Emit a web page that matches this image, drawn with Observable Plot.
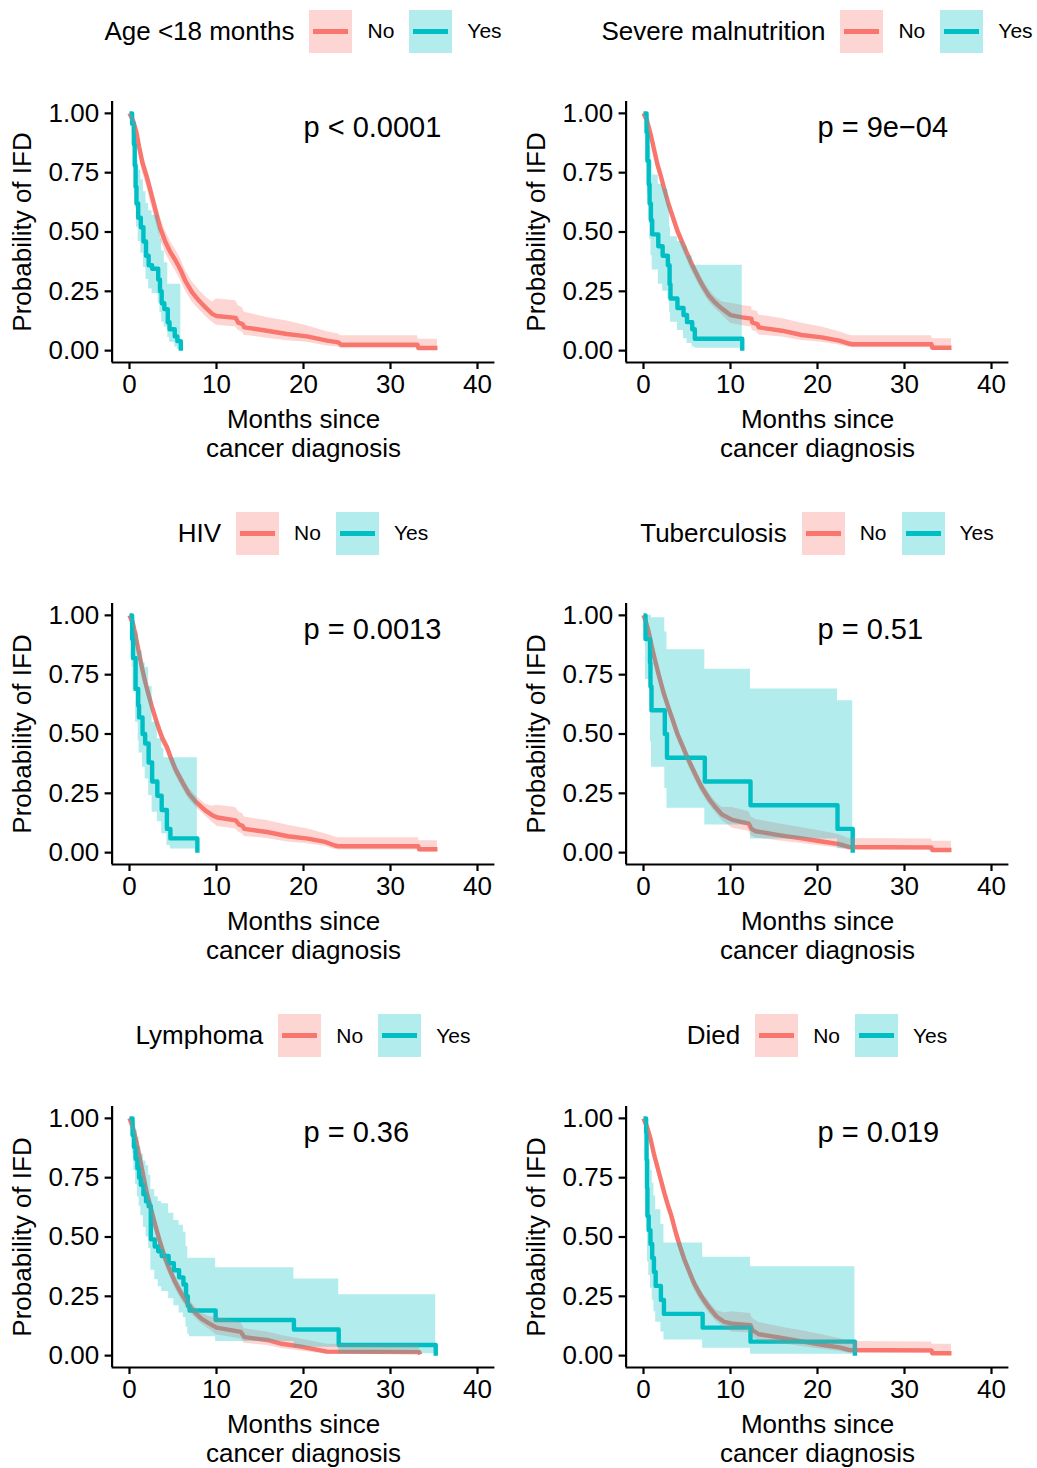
<!DOCTYPE html>
<html><head><meta charset="utf-8">
<script src="https://cdn.jsdelivr.net/npm/d3@7"></script>
<script src="https://cdn.jsdelivr.net/npm/@observablehq/plot@0.6"></script>
<style>
body{margin:0;background:#fff;font-family:"Liberation Sans",Arial,Helvetica,sans-serif;color:#000;}
#root{position:relative;width:1037px;height:1468px;overflow:hidden;background:#fff;}
.panel{position:absolute;}
.legend{position:absolute;display:flex;align-items:center;justify-content:center;width:600px;height:43px;color:#000;white-space:nowrap;}
.legend .title{font-size:26px;margin-right:15px;}
.legend .key{width:43px;height:43px;position:relative;flex:none;}
.legend .key i{position:absolute;left:4px;right:4px;top:19px;height:5px;display:block;}
.legend .lab{font-size:21px;margin:0 15px;}
.legend .lab.last{margin-right:0;}
</style></head><body><div id="root"></div>
<script>
// ---------- data ----------
const panelTitles = ["Age <18 months", "Severe malnutrition", "HIV", "Tuberculosis", "Lymphoma", "Died"];
const pLabels = ["p < 0.0001", "p = 9e\u221204", "p = 0.0013", "p = 0.51", "p = 0.36", "p = 0.019"];
const groups = ["No", "Yes"];
const xTicks = [0, 10, 20, 30, 40];
const yTicks = [0, 0.25, 0.5, 0.75, 1];
const xLabel = "Months since\ncancer diagnosis";
const yLabel = "Probability of IFD";

// "No" groups (large, finely stepped): vertices [months, survival, lower CI, upper CI]
const ageNo = [[0,1,1,1],[0.4,0.97,0.95,0.99],[0.8,0.92,0.89,0.95],[1.1,0.86,0.82,0.89],[1.5,0.79,0.75,0.83],[2.0,0.73,0.69,0.77],[2.4,0.675,0.63,0.72],[3.0,0.59,0.545,0.635],[3.5,0.52,0.475,0.565],[4.1,0.46,0.415,0.505],[4.7,0.415,0.37,0.46],[5.3,0.38,0.335,0.425],[5.9,0.338,0.295,0.385],[6.4,0.295,0.255,0.34],[7.2,0.246,0.205,0.29],[8.0,0.21,0.172,0.255],[8.7,0.183,0.146,0.228],[9.5,0.155,0.12,0.205],[10.0,0.146,0.107,0.218],[12.2,0.138,0.1,0.21],[12.5,0.118,0.085,0.19],[13.0,0.112,0.078,0.18],[13.2,0.098,0.065,0.162],[15.8,0.084,0.052,0.14],[18.1,0.07,0.042,0.125],[20.4,0.06,0.035,0.105],[22.7,0.042,0.02,0.08],[24.0,0.035,0.015,0.07],[24.3,0.025,0.008,0.063],[33.1,0.025,0.008,0.063],[33.2,0.011,0.001,0.048],[35.4,0.011,0.001,0.048]];
const malNo = [[0,1,1,1],[0.4,0.97,0.955,0.985],[0.8,0.915,0.895,0.935],[1.2,0.85,0.825,0.875],[1.6,0.785,0.76,0.81],[2.0,0.735,0.71,0.76],[2.4,0.68,0.655,0.705],[2.9,0.615,0.59,0.64],[3.4,0.56,0.535,0.585],[3.9,0.505,0.48,0.53],[4.45,0.457,0.43,0.485],[5.0,0.41,0.383,0.437],[5.5,0.368,0.34,0.395],[6.0,0.33,0.303,0.357],[6.7,0.28,0.254,0.307],[7.5,0.232,0.207,0.258],[8.3,0.2,0.176,0.225],[9.05,0.176,0.15,0.205],[10.0,0.15,0.115,0.2],[11.35,0.14,0.105,0.19],[12.4,0.135,0.1,0.185],[12.5,0.118,0.085,0.17],[13.1,0.112,0.078,0.165],[13.25,0.098,0.066,0.15],[15.9,0.084,0.058,0.135],[18.2,0.066,0.043,0.115],[20.5,0.056,0.035,0.1],[22.5,0.042,0.024,0.08],[23.6,0.03,0.014,0.066],[24.0,0.027,0.012,0.063],[33.1,0.027,0.012,0.063],[33.2,0.012,0.002,0.05],[35.4,0.012,0.002,0.05]];
const hivNo = [[0,1,1,1],[0.4,0.965,0.95,0.98],[0.7,0.914,0.895,0.933],[1.1,0.84,0.817,0.863],[1.46,0.775,0.75,0.8],[1.8,0.72,0.695,0.745],[2.2,0.665,0.64,0.69],[2.6,0.612,0.587,0.637],[3.0,0.565,0.54,0.59],[3.4,0.52,0.495,0.545],[3.8,0.48,0.455,0.505],[4.3,0.445,0.42,0.47],[4.8,0.395,0.37,0.42],[5.3,0.35,0.325,0.375],[6.1,0.295,0.27,0.32],[6.8,0.25,0.226,0.275],[7.6,0.215,0.192,0.24],[8.7,0.178,0.155,0.205],[9.5,0.158,0.128,0.195],[10.1,0.148,0.11,0.2],[12.2,0.136,0.1,0.19],[12.6,0.118,0.085,0.17],[13.0,0.113,0.08,0.165],[13.2,0.1,0.068,0.15],[15.8,0.087,0.06,0.135],[18.2,0.069,0.045,0.115],[20.5,0.059,0.037,0.1],[22.5,0.045,0.026,0.08],[23.6,0.03,0.013,0.066],[24.0,0.027,0.011,0.063],[33.2,0.027,0.011,0.063],[33.3,0.014,0.003,0.05],[35.4,0.014,0.003,0.05]];
const tbNo = [[0,1,1,1],[0.3,0.97,0.955,0.985],[0.6,0.93,0.912,0.948],[1.0,0.86,0.838,0.882],[1.4,0.8,0.776,0.824],[1.76,0.748,0.724,0.772],[2.3,0.675,0.65,0.7],[2.9,0.608,0.583,0.633],[3.4,0.555,0.53,0.58],[3.9,0.5,0.475,0.525],[4.45,0.453,0.428,0.478],[5.0,0.405,0.38,0.43],[5.5,0.365,0.34,0.39],[6.0,0.326,0.302,0.35],[6.7,0.275,0.251,0.3],[7.5,0.228,0.205,0.252],[8.3,0.19,0.168,0.214],[9.05,0.16,0.135,0.19],[10.2,0.138,0.103,0.19],[12.1,0.122,0.09,0.172],[12.4,0.1,0.07,0.15],[12.9,0.09,0.062,0.14],[15.9,0.072,0.048,0.12],[18.2,0.06,0.038,0.105],[20.5,0.047,0.028,0.09],[22.5,0.036,0.018,0.075],[23.6,0.024,0.01,0.06],[33.1,0.022,0.009,0.058],[33.2,0.011,0.002,0.048],[35.4,0.011,0.002,0.048]];
const lymNo = [[0,1,1,1],[0.4,0.96,0.94,0.98],[0.8,0.9,0.875,0.925],[1.2,0.83,0.803,0.857],[1.6,0.755,0.727,0.783],[2.0,0.685,0.657,0.713],[2.5,0.615,0.587,0.643],[3.0,0.545,0.517,0.573],[3.5,0.48,0.452,0.508],[4.1,0.41,0.382,0.438],[4.7,0.355,0.328,0.382],[5.3,0.306,0.28,0.332],[5.9,0.265,0.24,0.29],[6.4,0.236,0.212,0.262],[7.0,0.205,0.182,0.23],[7.6,0.179,0.156,0.203],[8.3,0.155,0.133,0.18],[9.1,0.137,0.112,0.165],[10.0,0.118,0.088,0.16],[12.8,0.1,0.07,0.14],[13.2,0.078,0.052,0.113],[15.8,0.066,0.043,0.1],[17.5,0.05,0.03,0.085],[19.7,0.038,0.02,0.07],[22.7,0.017,0.006,0.048],[33.3,0.015,0.005,0.045],[33.4,0.005,0.005,0.005]];
const diedNo = [[0,1,1,1],[0.4,0.965,0.95,0.98],[0.8,0.915,0.895,0.935],[1.2,0.85,0.826,0.874],[1.6,0.795,0.77,0.82],[2.0,0.74,0.714,0.766],[2.4,0.685,0.659,0.711],[2.8,0.635,0.609,0.661],[3.2,0.59,0.564,0.616],[3.7,0.52,0.494,0.546],[4.2,0.46,0.434,0.486],[4.7,0.405,0.379,0.431],[5.2,0.36,0.334,0.386],[5.8,0.306,0.281,0.331],[6.4,0.265,0.241,0.29],[6.9,0.236,0.212,0.26],[7.6,0.2,0.177,0.224],[8.4,0.165,0.143,0.19],[9.3,0.142,0.115,0.18],[10.2,0.135,0.1,0.185],[12.3,0.128,0.095,0.178],[12.5,0.108,0.078,0.158],[13.25,0.09,0.063,0.14],[15.9,0.075,0.05,0.12],[18.2,0.06,0.038,0.105],[20.5,0.046,0.027,0.088],[22.5,0.035,0.018,0.072],[23.6,0.024,0.01,0.06],[33.1,0.022,0.009,0.058],[33.2,0.01,0.002,0.048],[35.4,0.01,0.002,0.048]];

// "Yes" groups (small, coarse steps): step starts [months, survival, lower CI, upper CI]
const ageYes = [[0,1,1,1],[0.3,0.956,0.91,1],[0.5,0.87,0.8,0.97],[0.6,0.78,0.7,0.92],[0.7,0.69,0.6,0.86],[0.8,0.62,0.52,0.8],[1.0,0.56,0.46,0.76],[1.3,0.52,0.41,0.72],[1.6,0.46,0.35,0.67],[1.9,0.4,0.3,0.62],[2.2,0.36,0.26,0.59],[2.6,0.345,0.24,0.57],[3.3,0.3,0.2,0.52],[3.5,0.25,0.16,0.47],[3.7,0.2,0.12,0.42],[4.0,0.175,0.1,0.37],[4.4,0.12,0.055,0.28],[4.6,0.09,0.035,0.28],[5.2,0.06,0.015,0.28],[5.5,0.04,0.005,0.28],[5.9,0,0,0]];
const malYes = [[0,1,1,1],[0.35,0.92,0.8,1],[0.45,0.8,0.66,0.98],[0.6,0.7,0.55,0.92],[0.7,0.62,0.47,0.86],[0.85,0.55,0.4,0.8],[1.0,0.49,0.34,0.74],[1.7,0.44,0.28,0.7],[2.2,0.4,0.25,0.68],[2.8,0.36,0.22,0.62],[3.0,0.28,0.16,0.52],[3.1,0.22,0.12,0.48],[3.9,0.18,0.085,0.46],[4.6,0.15,0.05,0.44],[5.0,0.12,0.03,0.4],[5.6,0.09,0.015,0.36],[5.9,0.05,0.01,0.36],[11.35,0,0,0]];
const hivYes = [[0,1,1,1],[0.3,0.9,0.78,1],[0.4,0.82,0.68,0.98],[0.7,0.69,0.55,0.93],[1.0,0.62,0.47,0.89],[1.1,0.57,0.42,0.85],[1.5,0.5,0.36,0.8],[1.8,0.46,0.31,0.78],[2.2,0.38,0.24,0.7],[2.6,0.3,0.17,0.55],[3.2,0.24,0.13,0.48],[3.7,0.18,0.08,0.44],[3.95,0.18,0.08,0.4],[4.3,0.1,0.03,0.4],[4.7,0.06,0.015,0.4],[7.8,0,0,0]];
const tbYes = [[0,1,1,1],[0.23,0.9,0.73,1],[0.75,0.8,0.587,1],[0.8,0.7,0.466,1],[0.92,0.6,0.36,0.99],[2.45,0.5,0.27,0.93],[2.7,0.4,0.187,0.855],[7.05,0.3,0.116,0.773],[12.3,0.2,0.058,0.69],[22.3,0.1,0.016,0.64],[24.05,0,0,0]];
const lymYes = [[0,1,1,1],[0.35,0.93,0.85,1],[0.5,0.88,0.78,0.98],[0.7,0.83,0.72,0.95],[0.9,0.79,0.67,0.92],[1.1,0.75,0.63,0.88],[1.3,0.72,0.59,0.85],[1.6,0.68,0.54,0.82],[1.9,0.65,0.5,0.8],[2.2,0.63,0.45,0.76],[2.45,0.49,0.36,0.7],[2.9,0.46,0.32,0.67],[3.3,0.44,0.29,0.65],[3.7,0.42,0.27,0.64],[4.5,0.39,0.24,0.6],[5.1,0.36,0.21,0.57],[5.7,0.33,0.18,0.55],[6.2,0.3,0.16,0.52],[6.5,0.25,0.12,0.46],[6.7,0.21,0.09,0.41],[6.9,0.19,0.08,0.41],[9.9,0.15,0.06,0.37],[18.9,0.11,0.035,0.323],[24.05,0.045,0.008,0.257],[35.2,0,0,0]];
const diedYes = [[0,1,1,1],[0.3,0.941,0.835,1],[0.35,0.824,0.661,1],[0.4,0.706,0.519,0.96],[0.45,0.588,0.395,0.876],[0.6,0.529,0.338,0.828],[0.8,0.471,0.284,0.78],[1.0,0.412,0.233,0.727],[1.2,0.353,0.185,0.673],[1.4,0.294,0.141,0.615],[2.0,0.235,0.1,0.553],[2.35,0.176,0.066,0.475],[6.8,0.118,0.031,0.415],[12.3,0.059,0.006,0.375],[24.3,0,0,0]];

const curvesNo = [ageNo, malNo, hivNo, tbNo, lymNo, diedNo];
const curvesYes = [ageYes, malYes, hivYes, tbYes, lymYes, diedYes];

// ---------- drawing ----------
const colNo = "#F8766D", colYes = "#00BFC4";
const toRows = a => a.map(([t, s, lo, hi]) => ({t, s, lo, hi}));
const root = document.getElementById("root");
const rowTops = [0, 502, 1004.5];
const colLefts = [0, 514];

function legend(title, left, top) {
  const d = document.createElement("div");
  d.className = "legend";
  d.style.left = left + "px";
  d.style.top = top + "px";
  d.innerHTML =
    `<span class="title">${title.replace("<", "&lt;")}</span>` +
    `<span class="key" style="background:rgba(248,118,109,0.3)"><i style="background:${colNo}"></i></span>` +
    `<span class="lab">${groups[0]}</span>` +
    `<span class="key" style="background:rgba(0,191,196,0.3)"><i style="background:${colYes}"></i></span>` +
    `<span class="lab last">${groups[1]}</span>`;
  root.appendChild(d);
}

panelTitles.forEach((title, i) => {
  const row = Math.floor(i / 2), col = i % 2;
  const top = rowTops[row], left = colLefts[col];
  const no = toRows(curvesNo[i]), yes = toRows(curvesYes[i]);
  const chart = Plot.plot({
    width: 518,
    height: 502,
    marginLeft: 111.6,
    marginRight: 23.6,
    marginTop: 101,
    marginBottom: 140,
    style: {fontFamily: '"Liberation Sans", Arial, Helvetica, sans-serif', fontSize: "26px", color: "#000", background: "transparent", overflow: "visible"},
    x: {domain: [-2, 42]},
    y: {domain: [-0.05, 1.05]},
    marks: [
      Plot.line(no, {x: "t", y: "s", curve: "linear", stroke: colNo, strokeWidth: 4.4, strokeLinecap: "butt", strokeLinejoin: "round"}),
      Plot.line(yes, {x: "t", y: "s", curve: "step-after", stroke: colYes, strokeWidth: 4.4, strokeLinecap: "butt", strokeLinejoin: "round"}),
      Plot.areaY(no, {x: "t", y1: "lo", y2: "hi", curve: "linear", fill: colNo, fillOpacity: 0.3}),
      Plot.areaY(yes, {x: "t", y1: "lo", y2: "hi", curve: "step-after", fill: colYes, fillOpacity: 0.3}),
      Plot.ruleX([-2], {stroke: "#000", strokeWidth: 2.2}),
      Plot.ruleY([-0.05], {stroke: "#000", strokeWidth: 2.2}),
      Plot.axisX({ticks: xTicks, tickSize: 7, tickPadding: 5, fontSize: 26, label: null, strokeWidth: 2.2, stroke: "#000", fill: "#000"}),
      Plot.axisY({ticks: yTicks, tickFormat: d3.format(".2f"), tickSize: 7, tickPadding: 6, fontSize: 26, label: null, strokeWidth: 2.2, stroke: "#000", fill: "#000"}),
      Plot.text([pLabels[i]], {x: 20, y: 0.94, text: d => d, textAnchor: "start", fontSize: 29, fill: "#000"}),
      Plot.text([yLabel], {frameAnchor: "left", text: d => d, dx: -89.6, rotate: -90, textAnchor: "middle", lineAnchor: "middle", fontSize: 26, fill: "#000"}),
      Plot.text([xLabel], {frameAnchor: "bottom", text: d => d, dy: 70.5, textAnchor: "middle", lineAnchor: "middle", fontSize: 26, lineHeight: 1.12, fill: "#000"})
    ]
  });
  const wrap = document.createElement("div");
  wrap.className = "panel";
  wrap.style.left = left + "px";
  wrap.style.top = top + "px";
  wrap.appendChild(chart);
  root.appendChild(wrap);
  legend(title, left + 303 - 300, top + 9.5);
});
</script>
</body></html>
